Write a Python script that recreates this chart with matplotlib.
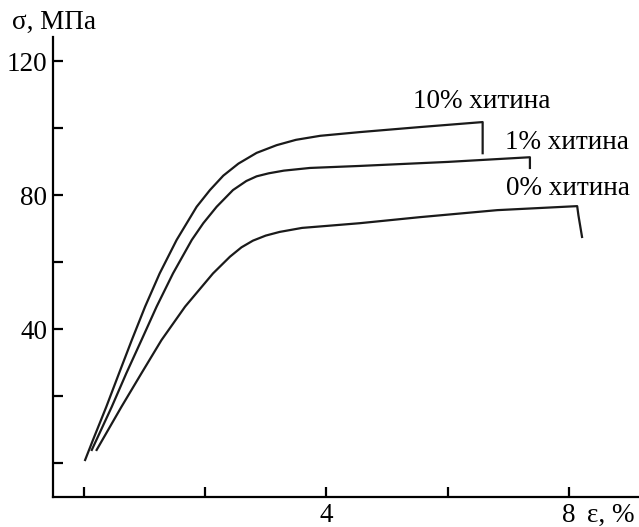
import matplotlib
matplotlib.use('Agg')
import matplotlib.pyplot as plt
import matplotlib.transforms as mtransforms

plt.rcParams['font.family'] = ['Liberation Serif', 'DejaVu Serif']

# кривые деформации (ε, %; σ, МПа)
eps_10 = [0.02, 0.15, 0.37, 0.58, 0.79, 1.01, 1.25, 1.53, 1.86, 2.08, 2.30, 2.55, 2.85, 3.18,
          3.50, 3.90, 4.55, 5.54, 6.58, 6.58]
sig_10 = [0.9, 6.9, 16.8, 26.8, 36.7, 46.7, 56.6, 66.6, 76.5, 81.5, 85.8, 89.4, 92.6, 94.9,
          96.5, 97.7, 98.8, 100.3, 101.8, 92.5]

eps_1 = [0.13, 0.46, 0.70, 0.95, 1.20, 1.47, 1.78, 1.97, 2.19, 2.46, 2.68, 2.85, 3.05, 3.30,
         3.73, 4.55, 6.0, 7.36, 7.36]
sig_1 = [3.9, 16.8, 26.8, 36.7, 46.7, 56.6, 66.6, 71.6, 76.5, 81.5, 84.2, 85.6, 86.5, 87.3,
         88.1, 88.7, 89.9, 91.3, 88.1]

eps_0 = [0.21, 0.62, 0.95, 1.28, 1.67, 2.13, 2.41, 2.60, 2.79, 3.00, 3.23, 3.60, 4.01, 4.55,
         5.54, 6.82, 8.14, 8.16, 8.22]
sig_0 = [3.9, 16.8, 26.8, 36.7, 46.7, 56.6, 61.6, 64.4, 66.4, 67.9, 69.0, 70.2, 70.8, 71.6,
         73.4, 75.5, 76.7, 74.0, 67.5]

labels = ['10% хитина', '1% хитина', '0% хитина']
label_pos = [(5.43, 107.8), (6.95, 95.8), (6.96, 82.1)]

fs = 19.5

fig = plt.figure(figsize=(6.39, 5.27), dpi=100)
ax = fig.add_axes([53 / 639, 30 / 527, 586 / 639, 460 / 527])

for x, y in [(eps_10, sig_10), (eps_1, sig_1), (eps_0, sig_0)]:
    ax.plot(x, y, color='#1a1a1a', lw=1.6, solid_joinstyle='round')

for txt, (x, y) in zip(labels, label_pos):
    ax.text(x, y, txt, fontsize=fs, va='center', ha='left')

ax.set_xlim(-0.51, 9.16)
ax.set_ylim(-10.15, 127.2)

ax.spines['top'].set_visible(False)
ax.spines['right'].set_visible(False)
for s in ['left', 'bottom']:
    ax.spines[s].set_linewidth(1.6)

ax.set_xticks([0, 2, 4, 6, 8])
ax.set_xticklabels(['', '', '4', '', '8'])
ax.set_yticks([0, 20, 40, 60, 80, 100, 120])
ax.set_yticklabels(['', '', '40', '', '80', '', '120'])
ax.tick_params(direction='in', length=7, width=1.6, labelsize=fs)
ax.tick_params(axis='x', pad=4)
ax.tick_params(axis='y', pad=4)

# подпись оси ε, % рядом с делением 8
off = mtransforms.ScaledTranslation(0, -4 / 72, fig.dpi_scale_trans)
ax.text(8.31, -10.15, 'ε, %', fontsize=fs, va='top', ha='left', transform=ax.transData + off)
fig.text(12 / 639, 1 - 22 / 527, 'σ, МПа', fontsize=fs, va='center', ha='left')

fig.savefig('out.png', dpi=100)
